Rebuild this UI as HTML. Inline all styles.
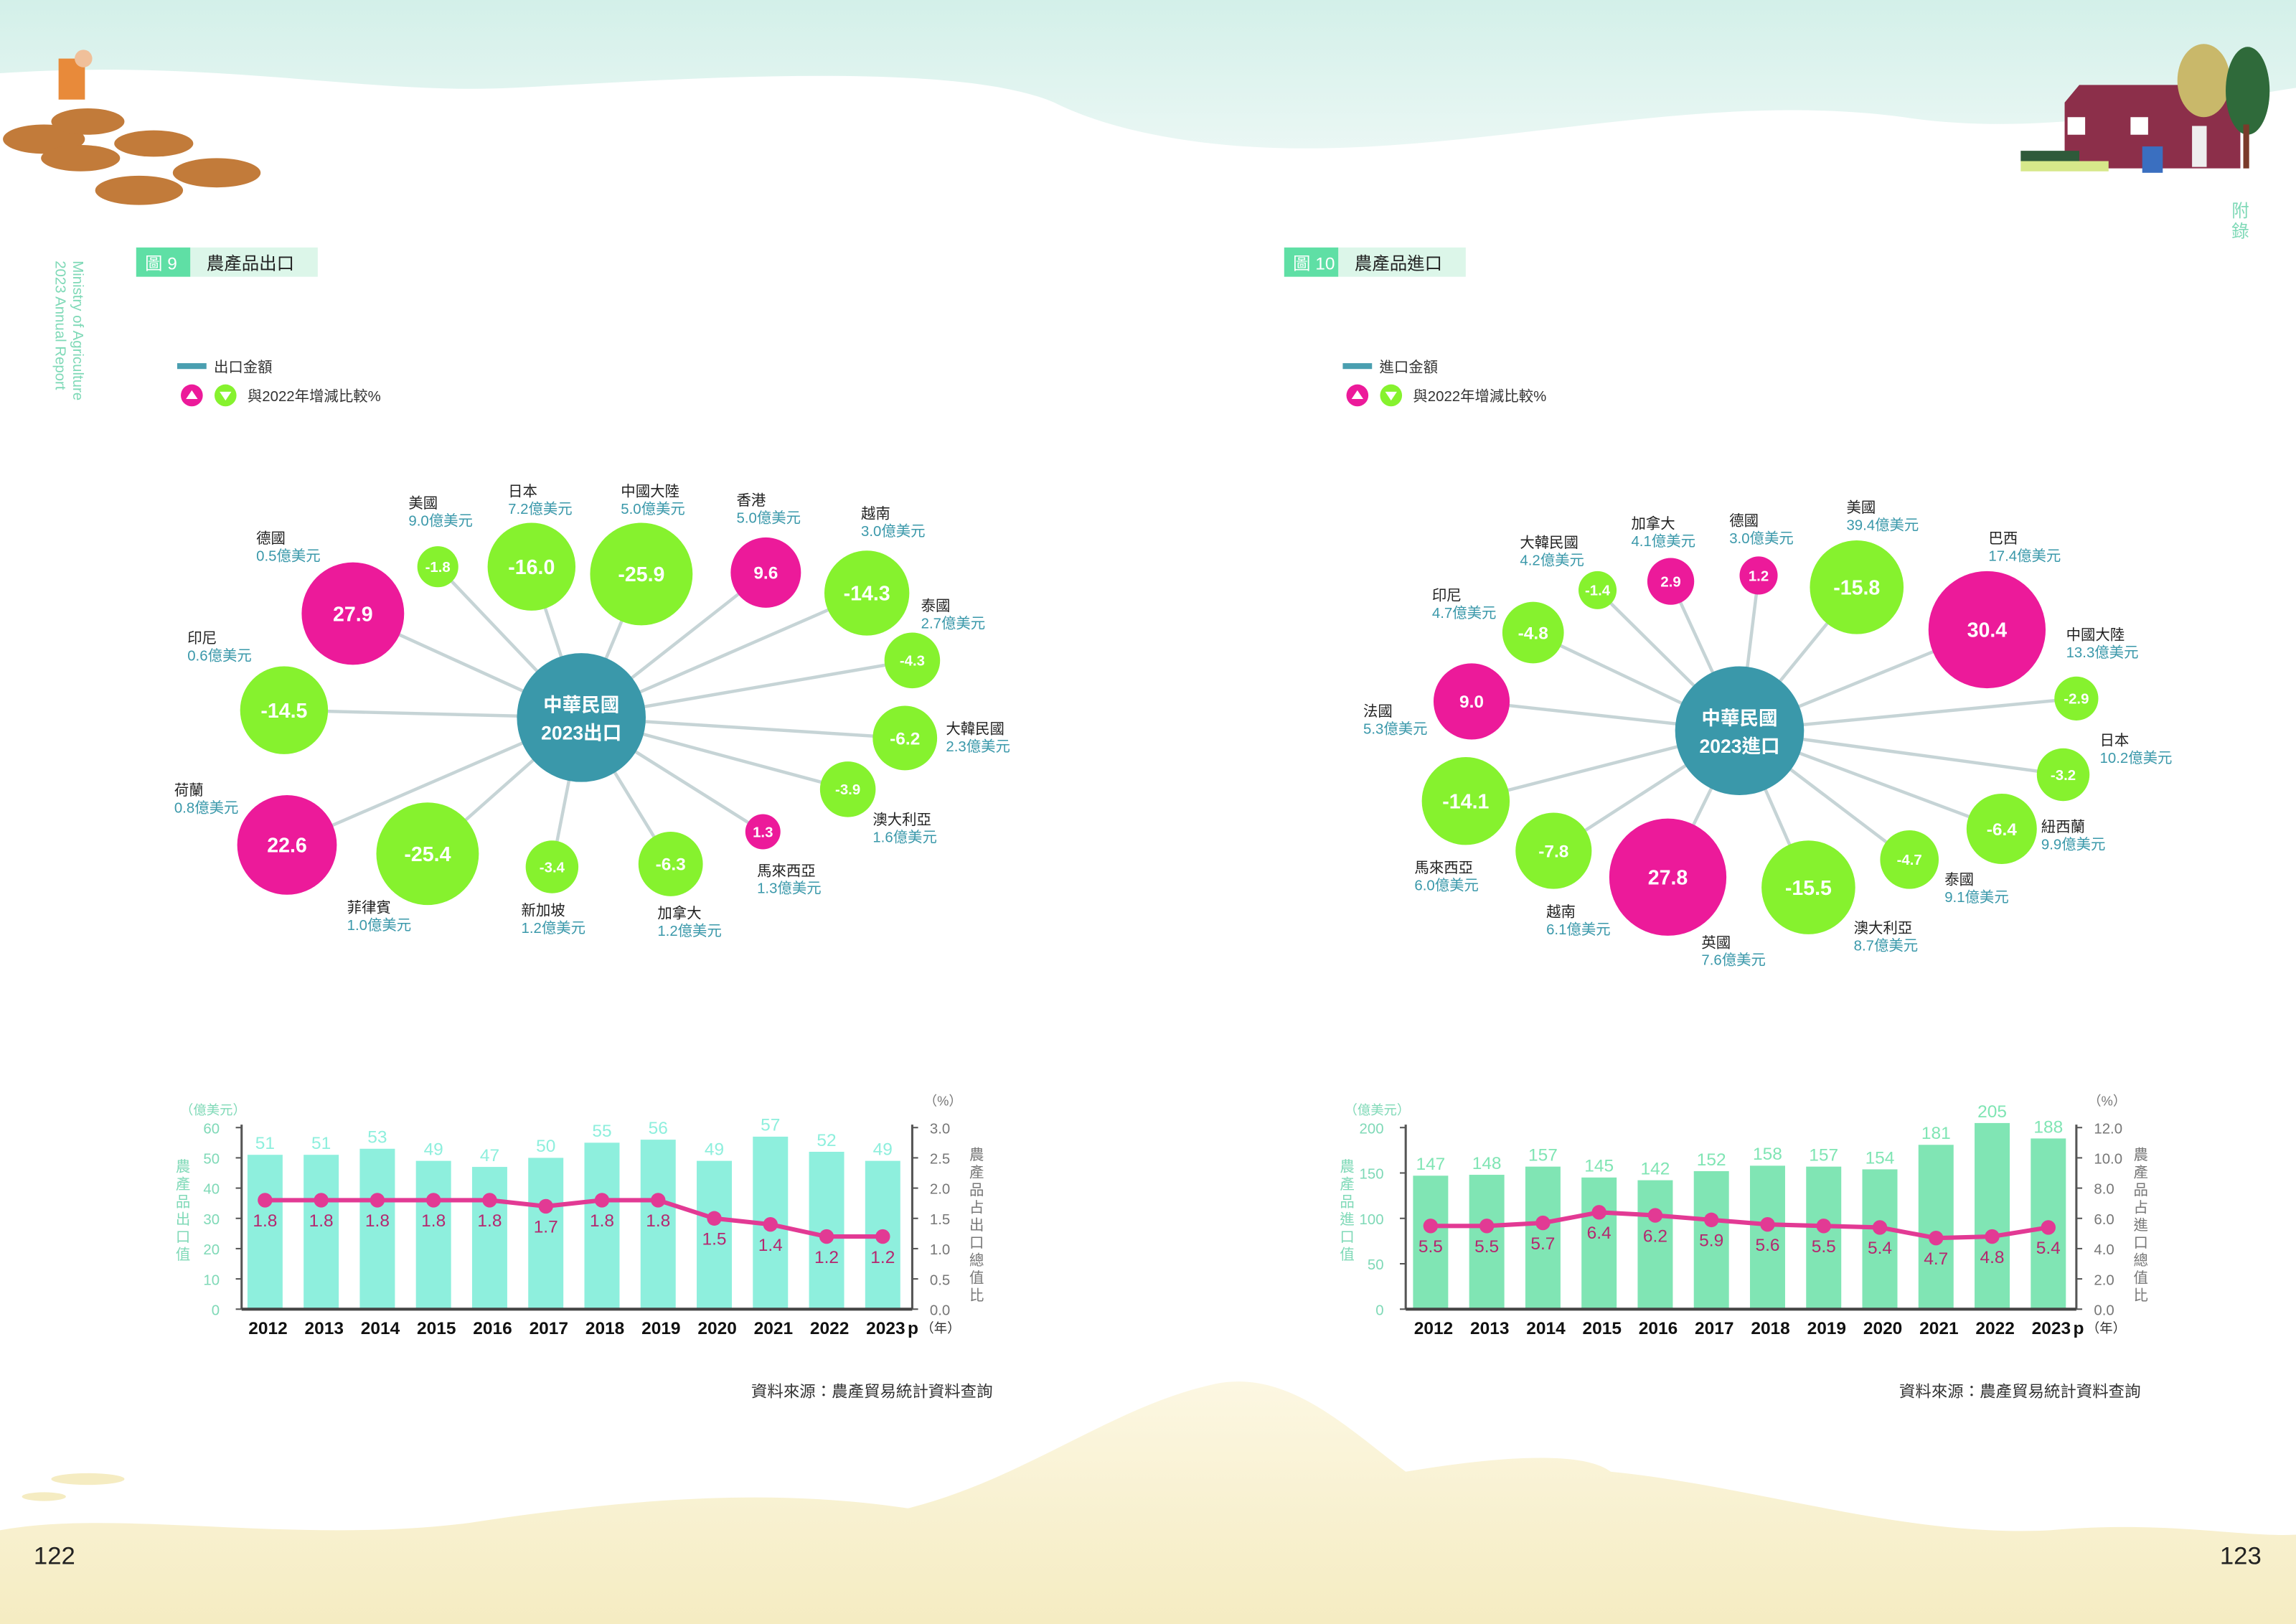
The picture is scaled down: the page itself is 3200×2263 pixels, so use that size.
<!DOCTYPE html>
<html><head><meta charset="utf-8"><style>
html,body{margin:0;padding:0;background:#fff}
svg{display:block}
text{font-family:"Liberation Sans","Noto Sans CJK TC",sans-serif}
</style></head><body>
<svg id="s" width="3200" height="2263" viewBox="0 0 1568 1109" preserveAspectRatio="none" xmlns="http://www.w3.org/2000/svg">
<defs>
<linearGradient id="sky" x1="0" y1="0" x2="0" y2="1"><stop offset="0" stop-color="#d3f0e9"/><stop offset="1" stop-color="#eaf7f4"/></linearGradient>
<linearGradient id="sand" x1="0" y1="0" x2="0" y2="1"><stop offset="0" stop-color="#fcf7e2"/><stop offset="1" stop-color="#f5ecc2"/></linearGradient>
</defs>
<rect width="1568" height="1109" fill="#fff"/>
<path d="M0 0H1568V60C1500 70 1400 95 1300 80C1150 60 1000 110 850 100C780 95 740 80 720 70C650 40 450 55 350 60C250 65 150 40 0 50Z" fill="url(#sky)"/>
<path d="M0 1109V1045C80 1030 200 1055 320 1040C420 1025 520 1015 620 1030C700 1010 760 960 830 945C880 935 920 975 960 1005C1020 995 1080 990 1100 1005C1200 1015 1300 1050 1400 1045C1480 1038 1530 1050 1568 1048V1109Z" fill="url(#sand)"/>
<ellipse cx="60" cy="1010" rx="25" ry="4" fill="#f5ecc2"/>
<ellipse cx="30" cy="1022" rx="15" ry="3" fill="#f5ecc2"/>
<g fill="#c27b3a"><ellipse cx="30" cy="95" rx="28" ry="10"/><ellipse cx="60" cy="83" rx="25" ry="9"/><ellipse cx="105" cy="98" rx="27" ry="9"/><ellipse cx="55" cy="108" rx="27" ry="9"/><ellipse cx="148" cy="118" rx="30" ry="10"/><ellipse cx="95" cy="130" rx="30" ry="10"/></g>
<rect x="40" y="40" width="18" height="28" fill="#e88a3a"/><circle cx="57" cy="40" r="6" fill="#f0c09a"/>
<path d="M1410 70L1420 58H1520L1530 70V115H1410Z" fill="#8c2f4a"/>
<rect x="1412" y="80" width="12" height="12" fill="#fff"/><rect x="1455" y="80" width="12" height="12" fill="#fff"/><rect x="1497" y="86" width="10" height="28" fill="#eee"/>
<ellipse cx="1505" cy="55" rx="18" ry="25" fill="#c9b86a"/><ellipse cx="1535" cy="62" rx="15" ry="30" fill="#2f6a3a"/><rect x="1532" y="85" width="4" height="30" fill="#7a3a2a"/>
<path d="M1380 103H1420V110H1380Z" fill="#2f5a3a"/><path d="M1380 110H1440V117H1380Z" fill="#d7e88a"/>
<rect x="1463" y="100" width="14" height="18" fill="#3a6fc0"/>
<text x="1530" y="148" font-size="12" fill="#7fd9b7" text-anchor="middle">附</text><text x="1530" y="162" font-size="12" fill="#7fd9b7" text-anchor="middle">錄</text>
<g transform="translate(38,178) rotate(90)" fill="#7fd9b7" font-size="10"><text x="0" y="0">2023 Annual Report</text><text x="0" y="-12">Ministry of Agriculture</text></g>
<text x="23" y="1068" font-size="17" fill="#222">122</text>
<text x="1516" y="1068" font-size="17" fill="#222">123</text>
<g id="dyn"></g>
</svg>
<script>
var g=document.getElementById('dyn'),h='';
var PK='#ec1a9a',GR='#86f22e',TE='#3a98aa',BL='#4a9fb0';
function T(x,y,s,sz,c,a,w){h+='<text x="'+x+'" y="'+y+'" font-size="'+sz+'" fill="'+c+'"'+(a?' text-anchor="'+a+'"':'')+(w?' font-weight="'+w+'"':'')+'>'+s+'</text>';}
function header(x,n,t){h+='<rect x="'+x+'" y="169" width="37" height="20" fill="#5fdfa5"/><rect x="'+(x+37)+'" y="169" width="87" height="20" fill="#dcf6e9"/>';T(x+6,184,'圖 '+n,12,'#fff');T(x+48,184,t,12,'#222');}
header(93,9,'農產品出口');header(877,10,'農產品進口');
function legend(x,t){h+='<rect x="'+x+'" y="248" width="20" height="4" fill="'+BL+'"/>';T(x+25,254,t,10,'#333');
h+='<circle cx="'+(x+10)+'" cy="270" r="7.5" fill="'+PK+'"/><path d="M'+(x+6)+' 272.5L'+(x+10)+' 266.5L'+(x+14)+' 272.5Z" fill="#fff"/>';
h+='<circle cx="'+(x+33)+'" cy="270" r="7.5" fill="'+GR+'"/><path d="M'+(x+29)+' 267.5L'+(x+33)+' 273.5L'+(x+37)+' 267.5Z" fill="#fff"/>';T(x+48,274,'與2022年增減比較%',10,'#333');}
legend(121,'出口金額');legend(917,'進口金額');
function bub(cx,cy,list,c1,c2){
 list.forEach(function(b){h+='<line x1="'+cx+'" y1="'+cy+'" x2="'+b[0]+'" y2="'+b[1]+'" stroke="#c6d4d6" stroke-width="2.2"/>';});
 list.forEach(function(b){var p=b[3].charAt(0)!='-';h+='<circle cx="'+b[0]+'" cy="'+b[1]+'" r="'+b[2]+'" fill="'+(p?PK:GR)+'"/>';
  var fs=b[2]>28?14:(b[2]>20?12:10);T(b[0],b[1]+fs*0.36,b[3],fs,'#fff','middle','bold');
  T(b[4],b[5],b[6],10,'#222');T(b[4],b[5]+12,b[7],10,'#3a98aa');});
 h+='<circle cx="'+cx+'" cy="'+cy+'" r="44" fill="'+TE+'"/>';T(cx,cy-4,c1,13,'#fff','middle','bold');T(cx,cy+15,c2,13,'#fff','middle','bold');}
bub(397,490,[
[241,419,35,'27.9',175,371,'德國','0.5億美元'],
[299,387,14,'-1.8',279,347,'美國','9.0億美元'],
[363,387,30,'-16.0',347,339,'日本','7.2億美元'],
[438,392,35,'-25.9',424,339,'中國大陸','5.0億美元'],
[523,391,24,'9.6',503,345,'香港','5.0億美元'],
[592,405,29,'-14.3',588,354,'越南','3.0億美元'],
[623,451,19,'-4.3',629,417,'泰國','2.7億美元'],
[618,504,22,'-6.2',646,501,'大韓民國','2.3億美元'],
[579,539,19,'-3.9',596,563,'澳大利亞','1.6億美元'],
[521,568,12,'1.3',517,598,'馬來西亞','1.3億美元'],
[458,590,22,'-6.3',449,627,'加拿大','1.2億美元'],
[377,592,18,'-3.4',356,625,'新加坡','1.2億美元'],
[292,583,35,'-25.4',237,623,'菲律賓','1.0億美元'],
[196,577,34,'22.6',119,543,'荷蘭','0.8億美元'],
[194,485,30,'-14.5',128,439,'印尼','0.6億美元']],'中華民國','2023出口');
bub(1188,499,[
[1268,401,32,'-15.8',1261,350,'美國','39.4億美元'],
[1357,430,40,'30.4',1358,371,'巴西','17.4億美元'],
[1418,477,15,'-2.9',1411,437,'中國大陸','13.3億美元'],
[1409,529,18,'-3.2',1434,509,'日本','10.2億美元'],
[1367,566,24,'-6.4',1394,568,'紐西蘭','9.9億美元'],
[1304,587,20,'-4.7',1328,604,'泰國','9.1億美元'],
[1235,606,32,'-15.5',1266,637,'澳大利亞','8.7億美元'],
[1139,599,40,'27.8',1162,647,'英國','7.6億美元'],
[1061,581,26,'-7.8',1056,626,'越南','6.1億美元'],
[1001,547,30,'-14.1',966,596,'馬來西亞','6.0億美元'],
[1005,479,26,'9.0',931,489,'法國','5.3億美元'],
[1047,432,21,'-4.8',978,410,'印尼','4.7億美元'],
[1091,403,13,'-1.4',1038,374,'大韓民國','4.2億美元'],
[1141,397,16,'2.9',1114,361,'加拿大','4.1億美元'],
[1201,393,13,'1.2',1181,359,'德國','3.0億美元']],'中華民國','2023進口');
function chart(x0,x1,cs,bars,line,lmax,rmax,lt,rt,barc,lab,ylab,rlab){
 var y0=894,H=124;
 T(x0-42,761,'（億美元）',9,'#7fd9b7');T(x1+8,755,'（%）',9,'#777');
 lt.forEach(function(v){var y=y0-v/lmax*H;T(x0-15,y+4,v,10,'#7fd9b7','end');h+='<line x1="'+(x0-4)+'" y1="'+y+'" x2="'+x0+'" y2="'+y+'" stroke="#555"/>';});
 rt.forEach(function(v){var y=y0-v/rmax*H;T(x1+12,y+4,v.toFixed(1),10,'#777');h+='<line x1="'+x1+'" y1="'+y+'" x2="'+(x1+4)+'" y2="'+y+'" stroke="#555"/>';});
 h+='<line x1="'+x0+'" y1="768" x2="'+x0+'" y2="'+y0+'" stroke="#555" stroke-width="1.5"/><line x1="'+x1+'" y1="768" x2="'+x1+'" y2="'+y0+'" stroke="#555" stroke-width="1.5"/>';
 var pts=[];
 bars.forEach(function(v,i){var cx=cs+i*38.35,y=y0-v/lmax*H;h+='<rect x="'+(cx-12)+'" y="'+y+'" width="24" height="'+(y0-y)+'" fill="'+barc+'"/>';T(cx,y-4,v,12,barc,'middle');
  T(cx+2,911,(i==11?'2023':String(2012+i)),12,'#111','middle','bold');pts.push([cx,y0-line[i]/rmax*H]);});
 T(cs+11*38.35+17,911,'p',12,'#111','start','bold');T(cs+11*38.35+26,910,'（年）',9,'#333');
 h+='<line x1="'+x0+'" y1="'+y0+'" x2="'+x1+'" y2="'+y0+'" stroke="#444" stroke-width="2"/>';
 h+='<polyline points="'+pts.map(function(p){return p.join(',')}).join(' ')+'" fill="none" stroke="#e23a94" stroke-width="3"/>';
 pts.forEach(function(p,i){h+='<circle cx="'+p[0]+'" cy="'+p[1]+'" r="5" fill="#e23a94"/>';T(p[0],p[1]+18,line[i].toFixed(1),12,'#b5266f','middle');});
 for(var k=0;k<ylab.length;k++)T(x0-40,800+k*12,ylab[k],10,'#7fd9b7','middle');
 for(var k=0;k<rlab.length;k++)T(x1+44,792+k*12,rlab[k],10,'#777','middle');
}
chart(165,623,181,[51,51,53,49,47,50,55,56,49,57,52,49],[1.8,1.8,1.8,1.8,1.8,1.7,1.8,1.8,1.5,1.4,1.2,1.2],60,3,[0,10,20,30,40,50,60],[0,0.5,1,1.5,2,2.5,3],'#8eefdd','','農產品出口值','農產品占出口總值比');
chart(960,1418,977,[147,148,157,145,142,152,158,157,154,181,205,188],[5.5,5.5,5.7,6.4,6.2,5.9,5.6,5.5,5.4,4.7,4.8,5.4],200,12,[0,50,100,150,200],[0,2,4,6,8,10,12],'#80e5b4','','農產品進口值','農產品占進口總值比');
T(513,954,'資料來源：農產貿易統計資料查詢',11,'#333');
T(1297,954,'資料來源：農產貿易統計資料查詢',11,'#333');
g.innerHTML=h;
</script>
</body></html>
